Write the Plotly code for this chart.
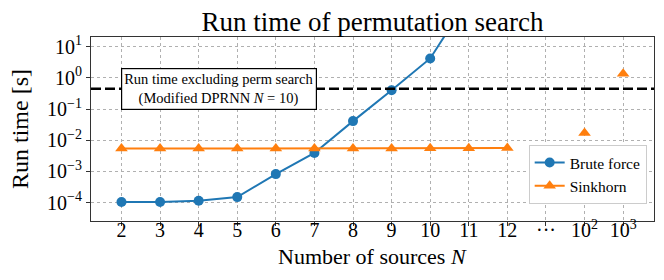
import math
import plotly.graph_objects as go

# Category labels on the x axis (evenly spaced)
x_labels = ["2", "3", "4", "5", "6", "7", "8", "9", "10", "11", "12", "···", "10<sup>2</sup>", "10<sup>3</sup>"]
x_keys = ["2", "3", "4", "5", "6", "7", "8", "9", "10", "11", "12", "...", "100", "1000"]

brute_n = ["2", "3", "4", "5", "6", "7", "8", "9", "10", "11"]
brute_t = [1.05e-4, 1.05e-4, 1.15e-4, 1.5e-4, 8.2e-4, 3.9e-3, 4.1e-2, 0.40, 4.2, 350.0]

sink_n = ["2", "3", "4", "5", "6", "7", "8", "9", "10", "11", "12", "100", "1000"]
sink_t = [5.4e-3, 5.4e-3, 5.4e-3, 5.4e-3, 5.4e-3, 5.4e-3, 5.4e-3, 5.4e-3, 5.5e-3, 5.5e-3, 5.6e-3, 1.7e-2, 1.35]

baseline_t = 0.45

y_tickvals = [1e-4, 1e-3, 1e-2, 1e-1, 1e0, 1e1]
y_ticktext = ["10<sup>−4</sup>", "10<sup>−3</sup>", "10<sup>−2</sup>", "10<sup>−1</sup>", "10<sup>0</sup>", "10<sup>1</sup>"]

FONT = "Liberation Serif"

# The page body has an 8px default margin, so the figure is sized to fit the window.
W, H = 656, 272
ML, MR, MT, MB = 83, 10, 29, 59
PW, PH = W - ML - MR, H - MT - MB

def pos(keys):
    return [x_keys.index(k) for k in keys]

fig = go.Figure()
fig.add_trace(go.Scatter(
    x=pos(brute_n), y=brute_t, mode="lines+markers", name="Brute force",
    line=dict(color="#1f77b4", width=2),
    marker=dict(symbol="circle", size=10, color="#1f77b4"),
))
fig.add_trace(go.Scatter(
    x=pos(sink_n[:11]), y=sink_t[:11], mode="lines+markers", name="Sinkhorn",
    line=dict(color="#ff7f0e", width=2),
    marker=dict(symbol="triangle-up", size=11, color="#ff7f0e"),
))
fig.add_trace(go.Scatter(
    x=pos(sink_n[11:]), y=sink_t[11:], mode="markers", showlegend=False,
    marker=dict(symbol="triangle-up", size=11, color="#ff7f0e"),
))

fig.add_shape(type="line", xref="paper", x0=0, x1=1, yref="y",
              y0=baseline_t, y1=baseline_t,
              line=dict(color="black", width=2.5, dash="10px,4px"))

fig.add_annotation(
    x=2.52, y=math.log10(baseline_t), xref="x", yref="y",
    text="Run time excluding perm search<br>(Modified DPRNN <i>N</i> = 10)",
    showarrow=False, font=dict(family=FONT, size=14.5, color="black"),
    bgcolor="white", bordercolor="black", borderwidth=1.2, borderpad=2,
    align="center",
)

# Axis titles
fig.add_annotation(
    x=0.5, y=-35 / PH, xref="paper", yref="paper", xanchor="center", yanchor="middle",
    text="Number of sources <i>N</i>", showarrow=False,
    font=dict(family=FONT, size=22, color="black"),
)
fig.add_annotation(
    x=-(ML - 12) / PW, y=0.5, xref="paper", yref="paper", xanchor="center", yanchor="middle",
    text="Run time [s]", textangle=-90, showarrow=False,
    font=dict(family=FONT, size=24, color="black"),
)

fig.update_layout(
    width=W, height=H,
    margin=dict(l=ML, r=MR, t=MT, b=MB, autoexpand=False),
    paper_bgcolor="white", plot_bgcolor="white",
    font=dict(family=FONT, color="black"),
    title=dict(text="Run time of permutation search", x=(ML + PW / 2) / W, xanchor="center",
               y=1 - 13.5 / H, yanchor="middle", font=dict(family=FONT, size=27)),
    legend=dict(x=0.987, y=(221 - 204) / 184, xanchor="right", yanchor="bottom",
                bgcolor="white", bordercolor="#cccccc", borderwidth=1,
                font=dict(family=FONT, size=15.5), itemwidth=30,
                tracegroupgap=0),
    showlegend=True,
)
fig.update_xaxes(
    range=[-0.79, 13.8], tickvals=list(range(len(x_labels))), ticktext=x_labels,
    showgrid=True, gridcolor="#b0b0b0", griddash="dot", gridwidth=1,
    showline=True, linecolor="#333333", linewidth=1.2, mirror=True,
    ticks="outside", ticklen=4, tickcolor="#333333", ticklabelstandoff=-13,
    tickfont=dict(family=FONT, size=20), automargin=False,
    zeroline=False,
)
fig.update_yaxes(
    type="log", range=[-4.59, 1.31], tickvals=y_tickvals, ticktext=y_ticktext,
    showgrid=True, gridcolor="#b0b0b0", griddash="dot", gridwidth=1,
    showline=True, linecolor="#333333", linewidth=1.2, mirror=True,
    ticks="outside", ticklen=4, tickcolor="#333333",
    tickfont=dict(family=FONT, size=20), automargin=False,
    zeroline=False,
)

fig.write_html("out.html")
